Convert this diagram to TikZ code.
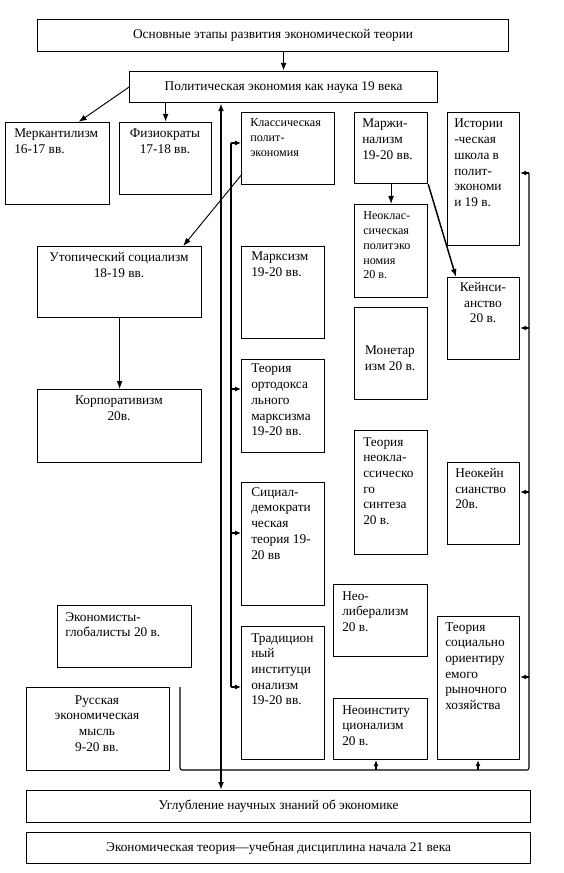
\documentclass[tikz,border=0pt]{standalone}
\usepackage{fontspec}
\setmainfont{Liberation Serif}
\usepackage{tikz}
\usetikzlibrary{arrows.meta,calc}

\begin{document}
\begin{tikzpicture}[x=0.75pt,y=0.75pt,yscale=-1,xscale=1,
  box/.style={draw, line width=0.9pt, inner sep=0pt, anchor=north west},
  sz/.style 2 args={minimum width=#1*0.75pt, minimum height=#2*0.75pt},
  lt/.style={anchor=north west, inner sep=0pt, align=left, font=\fontsize{10}{11.8}\selectfont},
  ct/.style={anchor=north, inner sep=0pt, align=center, font=\fontsize{10}{11.8}\selectfont},
  sm/.style={font=\fontsize{9.1}{11.2}\selectfont},
  arr/.style={-{Latex[length=6pt,width=4.4pt]}, line width=0.7pt},
  sarr/.style={-{Latex[length=4.5pt,width=3.8pt]}, line width=0.8pt},
  dblarr/.style={{Latex[length=6pt,width=4.4pt]}-{Latex[length=6pt,width=4.4pt]}, line width=1.4pt}]
\useasboundingbox (0,0) rectangle (563,873);

%Shape: Rectangle
\node[box, sz={471}{32}] (title) at (37,19) {};
\node[box, sz={308}{31}] (polit) at (129,71) {};
\node[box, sz={104}{82}] (merc) at (5,122) {};
\node[box, sz={92}{72}] (fiz) at (119,122) {};
\node[box, sz={93}{72}] (klass) at (241,112) {};
\node[box, sz={73}{71}] (marg) at (354,112) {};
\node[box, sz={72}{133}] (hist) at (447,112) {};
\node[box, sz={73}{93}] (neocl) at (354,204) {};
\node[box, sz={164}{71}] (utop) at (37,246) {};
\node[box, sz={83}{92}] (marx) at (241,246) {};
\node[box, sz={72}{82}] (keyn) at (447,277) {};
\node[box, sz={73}{92}] (monet) at (354,307) {};
\node[box, sz={83}{93}] (ortho) at (241,359) {};
\node[box, sz={164}{73}] (korp) at (37,389) {};
\node[box, sz={73}{124}] (synth) at (354,430) {};
\node[box, sz={72}{82}] (neokeyn) at (447,462) {};
\node[box, sz={83}{123}] (social) at (241,482) {};
\node[box, sz={94}{72}] (neolib) at (333,584) {};
\node[box, sz={134}{62}] (global) at (57,605) {};
\node[box, sz={82}{143}] (socmark) at (437,616) {};
\node[box, sz={83}{133}] (trad) at (241,626) {};
\node[box, sz={143}{83}] (russ) at (26,687) {};
\node[box, sz={94}{61}] (neoinst) at (333,698) {};
\node[box, sz={504}{32}] (deep) at (26,790) {};
\node[box, sz={504}{31}] (econ) at (26,832) {};

% Text Node
\node[ct, anchor=center] (t-title) at (title.center) {Основные этапы развития экономической теории};
% Text Node
\node[ct, anchor=center] (t-polit) at (polit.center) {Политическая экономия как наука 19 века};
% Text Node
\node[lt] (t-merc) at (14,129) {Меркантилизм\\16-17 вв.};
% Text Node
\node[ct] (t-fiz) at (165,129) {Физиократы\\17-18 вв.};
% Text Node
\node[lt, sm] (t-klass) at (250,118) {Классическая\\полит-\\экономия};
% Text Node
\node[lt] (t-marg) at (362,119) {Маржи-\\нализм\\19-20 вв.};
% Text Node
\node[lt] (t-hist) at (454,119) {Истории\\-ческая\\школа в\\полит-\\экономи\\и 19 в.};
% Text Node
\node[lt, sm] (t-neocl) at (363,211) {Неоклас-\\сическая\\политэко\\номия\\20 в.};
% Text Node
\node[ct] (t-utop) at (119,252) {Утопический социализм\\18-19 вв.};
% Text Node
\node[lt] (t-marx) at (251,252) {Марксизм\\19-20 вв.};
% Text Node
\node[ct] (t-keyn) at (483,282) {Кейнси-\\анство\\20 в.};
% Text Node
\node[ct] (t-monet) at (390,346) {Монетар\\изм 20 в.};
% Text Node
\node[lt] (t-ortho) at (251,364) {Теория\\ортодокса\\льного\\марксизма\\19-20 вв.};
% Text Node
\node[ct] (t-korp) at (119,396) {Корпоративизм\\20в.};
% Text Node
\node[lt] (t-synth) at (363,437) {Теория\\неокла-\\ссическо\\го\\синтеза\\20 в.};
% Text Node
\node[lt] (t-neokeyn) at (455,468) {Неокейн\\сианство\\20в.};
% Text Node
\node[lt] (t-social) at (251,487) {Сициал-\\демократи\\ческая\\теория 19-\\20 вв};
% Text Node
\node[lt] (t-neolib) at (342,591) {Нео-\\либерализм\\20 в.};
% Text Node
\node[lt] (t-global) at (65,612) {Экономисты-\\глобалисты 20 в.};
% Text Node
\node[lt] (t-socmark) at (445,622) {Теория\\социально\\ориентиру\\емого\\рыночного\\хозяйства};
% Text Node
\node[lt] (t-trad) at (251,633) {Традицион\\ный\\институци\\онализм\\19-20 вв.};
% Text Node
\node[ct] (t-russ) at (97,695) {Русская\\экономическая\\мысль\\9-20 вв.};
% Text Node
\node[lt] (t-neoinst) at (342,705) {Неоинститу\\ционализм\\20 в.};
% Text Node
\node[ct, anchor=center] (t-deep) at (deep.center) {Углубление научных знаний об экономике};
% Text Node
\node[ct, anchor=center] (t-econ) at (econ.center) {Экономическая теория—учебная дисциплина начала 21 века};

%Straight Lines
\draw[arr, line width=1.3pt] (polit.north |- title.south) -- (polit.north);
\draw[arr] (polit.west) -- ($(merc.north)+(21,0)$);
\draw[arr, line width=1.3pt] (fiz.north |- polit.south) -- (fiz.north);
\draw[arr] ($(klass.south west)+(1,-11)$) -- ($(utop.north east)+(-19,0)$);
\draw[arr] (utop.south) -- (korp.north);
\draw[arr] (marg.south) -- (neocl.north);
\draw[arr, line width=1.1pt] (marg.south east) -- ($(keyn.north west)+(9,0)$);

%Straight Lines
\coordinate (spine) at (221,0);
\draw[dblarr] (spine |- polit.south) -- (spine |- deep.north);

%Straight Lines
\coordinate (fa) at (231,143);
\coordinate (fb) at (231,389);
\coordinate (fc) at (231,533);
\coordinate (fd) at (231,687);
\draw[line width=0.8pt] (fa) -- (fd);
\draw[sarr] (fa) -- (fa -| klass.west);
\draw[sarr] (fb) -- (fb -| ortho.west);
\draw[sarr] (fc) -- (fc -| social.west);
\draw[sarr] (fd) -- (fd -| trad.west);

%Straight Lines
\coordinate (bus-l) at (180,687);
\coordinate (bus-bl) at (180,770);
\coordinate (bus-br) at (529,770);
\coordinate (ra) at (529,173);
\coordinate (rb) at (529,328);
\coordinate (rc) at (529,492);
\coordinate (rd) at (529,677);
\draw[line width=0.8pt, rounded corners=1.5pt] (bus-l) -- (bus-bl) -- (bus-br) -- (ra);
\draw[sarr] (ra) -- (ra -| hist.east);
\draw[sarr] (rb) -- (rb -| keyn.east);
\draw[sarr] (rc) -- (rc -| neokeyn.east);
\draw[sarr] (rd) -- (rd -| socmark.east);
\coordinate (ua) at (376,770);
\coordinate (ub) at (478,770);
\draw[sarr] (ua) -- (ua |- neoinst.south);
\draw[sarr] (ub) -- (ub |- socmark.south);

\end{tikzpicture}
\end{document}
